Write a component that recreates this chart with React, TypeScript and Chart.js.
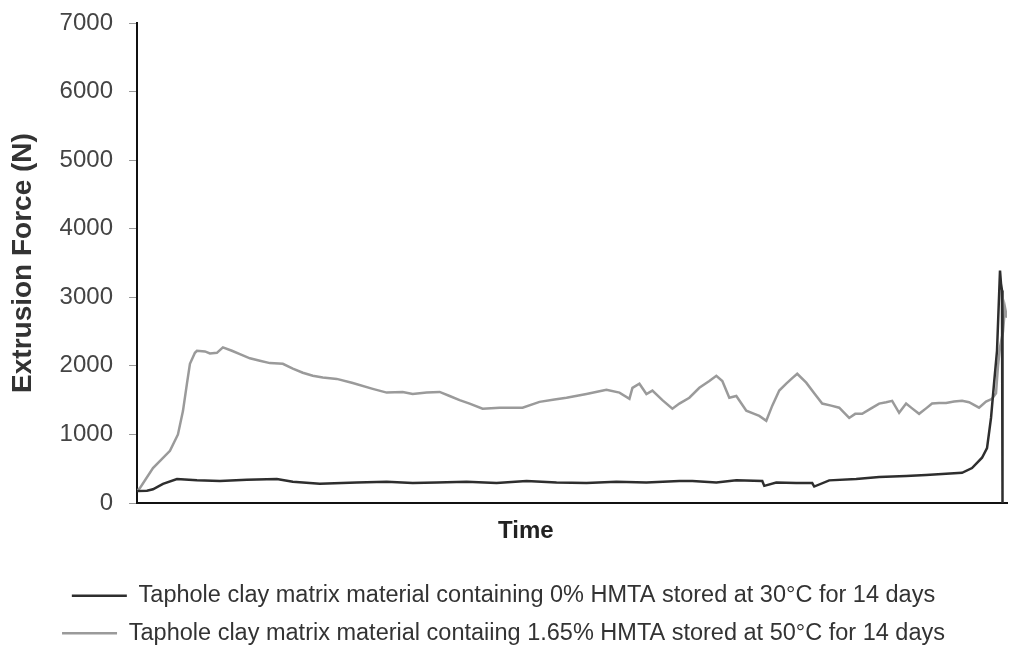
import React, { useEffect, useRef } from "react";
import { Chart, registerables } from "chart.js";

Chart.register(...registerables);

const yTicks = [0, 1000, 2000, 3000, 4000, 5000, 6000, 7000];
const yTitle = "Extrusion Force (N)";
const xTitle = "Time";
const timeMax = 871;

const darkLabel = "Taphole clay matrix material containing 0% HMTA stored at 30°C for 14 days";
const grayLabel = "Taphole clay matrix material contaiing 1.65% HMTA stored at 50°C for 14 days";

const darkTime = [
  0, 10, 16, 26, 40, 60, 83, 110, 140, 156,
  183, 220, 250, 276, 300, 330, 360, 390, 420, 450,
  480, 510, 543, 556, 580, 600, 626, 628, 640, 660,
  676, 678, 693, 720, 743, 770, 790, 810, 826, 836,
  846, 851, 855, 858, 861, 864, 865, 866, 866.5,
];
const darkForce = [
  175, 180, 200, 280, 350, 330, 320, 340, 350, 310,
  280, 300, 310, 290, 300, 310, 290, 320, 300, 290,
  310, 300, 320, 320, 300, 330, 320, 250, 300, 290,
  290, 240, 330, 350, 380, 395, 410, 425, 440, 510,
  660, 800, 1240, 1740, 2220, 3390, 3200, 3100, 0,
];

const grayTime = [
  0, 3, 16, 33, 41, 46, 50, 53, 58, 60,
  68, 73, 80, 86, 95, 103, 113, 123, 133, 146,
  156, 166, 176, 186, 200, 216, 236, 250, 266, 276,
  290, 303, 313, 323, 333, 346, 363, 386, 403, 418,
  430, 450, 463, 470, 483, 493, 496, 503, 510, 516,
  526, 536, 543, 553, 563, 573, 580, 586, 593, 600,
  610, 618, 623, 630, 636, 643, 650, 656, 661, 670,
  678, 686, 695, 703, 713, 719, 726, 735, 743, 750,
  756, 763, 770, 776, 783, 790, 796, 803, 810, 818,
  826, 833, 843, 850, 856, 860, 862, 864, 867, 869, 871,
];
const grayForce = [
  175, 220, 510, 760, 1000, 1340, 1740, 2030, 2190, 2220,
  2210, 2180, 2190, 2270, 2220, 2170, 2110, 2075, 2040, 2030,
  1960, 1900, 1855, 1830, 1810, 1750, 1665, 1610, 1620, 1590,
  1610, 1620, 1560, 1500, 1450, 1375, 1390, 1390, 1475, 1510,
  1535, 1590, 1630, 1650, 1610, 1520, 1680, 1740, 1590, 1640,
  1500, 1375, 1450, 1535, 1680, 1780, 1855, 1780, 1535, 1560,
  1345, 1300, 1270, 1200, 1420, 1640, 1740, 1820, 1885, 1755,
  1600, 1450, 1420, 1390, 1240, 1300, 1300, 1380, 1450, 1470,
  1490, 1315, 1450, 1380, 1300, 1380, 1450, 1460, 1460, 1480,
  1490, 1470, 1390, 1480, 1520, 1600, 2000, 2270, 2500, 2850, 2700,
];

const FONT = "'Liberation Sans', Arial, Helvetica, sans-serif";

const xTitlePlugin = {
  id: "xTitleOffset",
  afterDraw(chart: any) {
    const area = chart.chartArea;
    const ctx = chart.ctx;
    ctx.save();
    ctx.font = `bold 24px ${FONT}`;
    ctx.fillStyle = "#222";
    ctx.textAlign = "center";
    ctx.textBaseline = "middle";
    ctx.fillText(xTitle, area.left + (area.right - area.left) * 0.447, area.bottom + 28);
    ctx.restore();
  },
};

function App() {
  const canvasRef = useRef<HTMLCanvasElement | null>(null);

  useEffect(() => {
    const canvas = canvasRef.current;
    if (!canvas) return;
    const chart = new Chart(canvas, {
      type: "line",
      data: {
        datasets: [
          {
            label: darkLabel,
            data: darkTime.map((t, i) => ({ x: t, y: darkForce[i] })),
            borderColor: "#2e2e2e",
            backgroundColor: "#2e2e2e",
            borderWidth: 2.5,
            pointRadius: 0,
            tension: 0,
            order: 0,
          },
          {
            label: grayLabel,
            data: grayTime.map((t, i) => ({ x: t, y: grayForce[i] })),
            borderColor: "#9a9a9a",
            backgroundColor: "#9a9a9a",
            borderWidth: 2.5,
            pointRadius: 0,
            tension: 0,
            order: 1,
          },
        ],
      },
      options: {
        responsive: false,
        animation: false,
        layout: { padding: { left: 0, top: 23, right: 2, bottom: -7 } },
        plugins: {
          tooltip: { enabled: false },
          legend: {
            position: "bottom",
            align: "center",
            labels: {
              usePointStyle: true,
              pointStyle: "line",
              pointStyleWidth: 55,
              color: "#333",
              font: { family: FONT, size: 23.5 },
              padding: 14,
            },
          },
        },
        scales: {
          x: {
            type: "linear",
            min: 0,
            max: timeMax,
            ticks: { display: false },
            grid: { display: true, drawOnChartArea: false, drawTicks: false },
            border: { color: "#111", width: 2 },
            afterFit: (axis: any) => {
              axis.height = 67;
            },
          },
          y: {
            min: 0,
            max: 7000,
            afterBuildTicks: (axis: any) => {
              axis.ticks = yTicks.map((v) => ({ value: v }));
            },
            afterFit: (axis: any) => {
              axis.width = 137;
              axis.paddingTop = 0;
              axis.paddingBottom = 0;
            },
            ticks: {
              color: "#444",
              font: { family: FONT, size: 24 },
              padding: 16,
              callback: (v: any) => String(v),
            },
            grid: { drawOnChartArea: false, tickLength: 8, color: "#999" },
            border: { color: "#111", width: 2 },
            title: {
              display: true,
              text: yTitle,
              color: "#333",
              font: { family: FONT, size: 28, weight: "bold" },
              padding: { top: 6, bottom: 0 },
            },
          },
        },
      },
      plugins: [xTitlePlugin],
    });
    return () => chart.destroy();
  }, []);

  return (
    <div style={{ position: "absolute", left: 0, top: 0, width: 1009, height: 648, background: "#fff" }}>
      <canvas ref={canvasRef} width={1009} height={648} />
    </div>
  );
}

export default App;
